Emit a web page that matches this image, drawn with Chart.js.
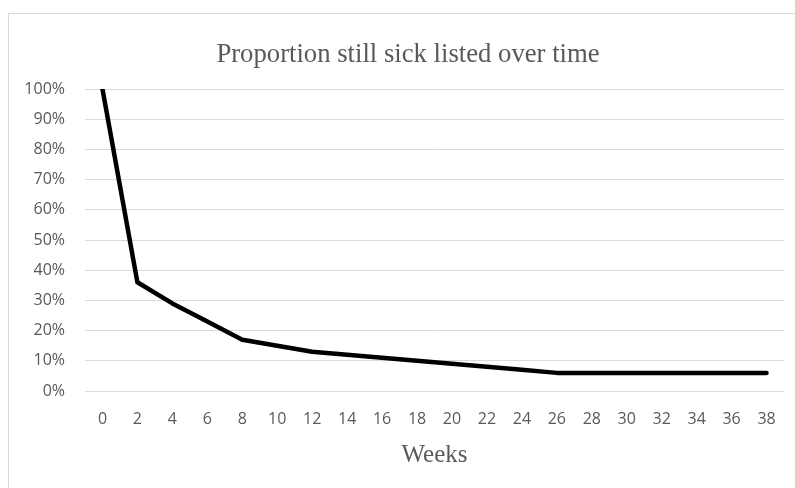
<!DOCTYPE html>
<html>
<head>
<meta charset="utf-8">
<script src="https://cdn.jsdelivr.net/npm/chart.js@4.4.1/dist/chart.umd.min.js"></script>
<style>
  html, body { margin: 0; padding: 0; background: #ffffff; overflow: hidden; }
  body { width: 795px; height: 488px; position: relative; }
  #frame {
    position: absolute; left: 8px; top: 13px; width: 799px; height: 475px;
    border-left: 1px solid #d9d9d9; border-top: 1px solid #d9d9d9;
    box-sizing: border-box;
  }
  #wrap { position: absolute; left: 0; top: 0; width: 798px; height: 474px; }
</style>
</head>
<body>
<div id="frame"><div id="wrap"><canvas id="chart"></canvas></div></div>
<script>
// Weeks since start of sick leave
const weeks = [0, 2, 4, 6, 8, 10, 12, 14, 16, 18, 20, 22, 24, 26, 28, 30, 32, 34, 36, 38];
// Share of people still on sick leave (%)
const stillSick = [100, 36, 29, 23, 17, 15, 13, 12, 11, 10, 9, 8, 7, 6, 6, 6, 6, 6, 6, 6];
// Y-axis tick values (%)
const yTicks = [0, 10, 20, 30, 40, 50, 60, 70, 80, 90, 100];

const chartTitle = 'Proportion still sick listed over time';
const xTitle = 'Weeks';

const grey = '#595959';
const tickFont = { family: "'Open Sans', 'Noto Sans', sans-serif", size: 16 };

new Chart(document.getElementById('chart'), {
  type: 'line',
  data: {
    labels: weeks.map(String),
    datasets: [{
      data: stillSick,
      borderColor: '#000000',
      borderWidth: 4.5,
      borderCapStyle: 'round',
      borderJoinStyle: 'round',
      pointRadius: 0,
      tension: 0,
      fill: false,
      yAxisID: 'y'
    }]
  },
  options: {
    responsive: true,
    maintainAspectRatio: false,
    animation: false,
    layout: { padding: 0 },
    plugins: {
      legend: { display: false },
      tooltip: { enabled: false },
      title: {
        display: true,
        text: chartTitle,
        color: grey,
        font: { family: "'Liberation Serif', 'Times New Roman', serif", size: 26.7, weight: 'normal' },
        padding: { top: 25, bottom: 18 }
      }
    },
    scales: {
      x: {
        offset: true,
        grid: { display: false, drawTicks: false },
        border: { display: false },
        ticks: { color: grey, font: tickFont, padding: 19, maxRotation: 0, autoSkip: false },
        title: {
          display: true,
          text: xTitle,
          color: grey,
          font: { family: "'Liberation Serif', 'Times New Roman', serif", size: 25, weight: 'normal' },
          padding: { top: 0, bottom: 18 }
        },
        afterFit: (scale) => { scale.height = 97; }
      },
      y: {
        min: 0,
        max: 100,
        afterBuildTicks: (scale) => { scale.ticks = yTicks.map(v => ({ value: v })); },
        grid: { color: '#d9d9d9', lineWidth: 1, drawTicks: false },
        border: { display: false },
        ticks: { color: grey, font: tickFont, padding: 20, callback: (v) => v + '%' },
        afterFit: (scale) => { scale.width = 76; }
      },
      // empty right-hand margin beside the plot
      yRight: {
        position: 'right',
        min: 0,
        max: 100,
        grid: { display: false, drawTicks: false },
        border: { display: false },
        ticks: { display: false },
        afterFit: (scale) => { scale.width = 23; }
      }
    }
  }
});
</script>
</body>
</html>
